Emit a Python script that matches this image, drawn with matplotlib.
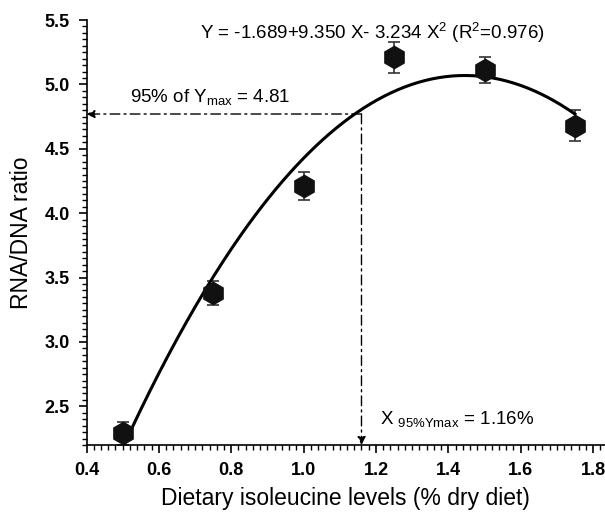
#!/usr/bin/env python3

import numpy as np
import matplotlib
matplotlib.use("Agg")
import matplotlib.pyplot as plt
from matplotlib.ticker import MultipleLocator

plt.rcParams["font.family"] = ["Liberation Sans", "DejaVu Sans"]
plt.rcParams["mathtext.default"] = "regular"

# data
levels = [0.5, 0.75, 1.0, 1.25, 1.5, 1.75]
ratio = [2.29, 3.38, 4.21, 5.21, 5.11, 4.68]
ratio_err = [0.09, 0.09, 0.11, 0.12, 0.10, 0.12]

# fitted quadratic shown on the chart
coef = [-1.689, 9.350, -3.234]
x95 = 1.16
y95 = 4.77

fig = plt.figure(figsize=(6.05, 5.15), dpi=100)
ax = fig.add_axes([86.5 / 605, 70 / 515, (605 - 86.5) / 605, (445 - 20) / 515])

xs = np.linspace(levels[0], levels[-1], 200)
ys = coef[0] + coef[1] * xs + coef[2] * xs ** 2
ax.plot(xs, ys, color="black", lw=2.2, zorder=3)

ax.errorbar(levels, ratio, yerr=ratio_err, fmt="none", ecolor="#333333",
            elinewidth=1.2, capsize=4, capthick=1.2, zorder=2)
ax.plot(levels, ratio, linestyle="none", marker="h", markersize=16,
        color="#111111", zorder=4)

# dash-dot guide lines with arrows
guide = dict(arrowstyle="-|>", linestyle=(0, (7, 3, 1.5, 3)), lw=1.0,
             color="black", mutation_scale=12, shrinkA=0, shrinkB=0)
ax.annotate("", xy=(0.4, y95), xytext=(x95, y95), arrowprops=guide)
ax.annotate("", xy=(x95, 2.2), xytext=(x95, y95), arrowprops=guide)

ax.text(1.19, 5.40, r"Y = -1.689+9.350 X- 3.234 X$^2$ (R$^2$=0.976)",
        ha="center", va="center", fontsize=13.5)
ax.text(0.52, 4.90, r"95% of Y$_{max}$ = 4.81", ha="left", va="center",
        fontsize=13.5)
ax.text(1.21, 2.40, r"X $_{95\%Ymax}$ = 1.16%", ha="left", va="center",
        fontsize=13.5)

ax.set_xlim(0.4, 1.833)
ax.set_ylim(2.2, 5.5)
ax.xaxis.set_minor_locator(MultipleLocator(0.02))
ax.yaxis.set_minor_locator(MultipleLocator(0.05))
ax.set_xticks(np.arange(0.4, 1.81, 0.2))
ax.set_yticks(np.arange(2.5, 5.51, 0.5))

ax.spines["top"].set_visible(False)
ax.spines["right"].set_visible(False)
ax.spines["left"].set_linewidth(1.2)
ax.spines["bottom"].set_linewidth(1.2)
ax.tick_params(which="major", direction="out", length=6, width=1.2,
               labelsize=13, pad=6)
ax.tick_params(which="minor", direction="out", length=3.5, width=1.0)
for lab in ax.get_xticklabels() + ax.get_yticklabels():
    lab.set_fontweight("bold")

ax.set_xlabel("Dietary isoleucine levels (% dry diet)", fontsize=16.5,
              labelpad=6)
ax.set_ylabel("RNA/DNA ratio", fontsize=16.5, labelpad=8)

fig.savefig("out.png", dpi=100)
